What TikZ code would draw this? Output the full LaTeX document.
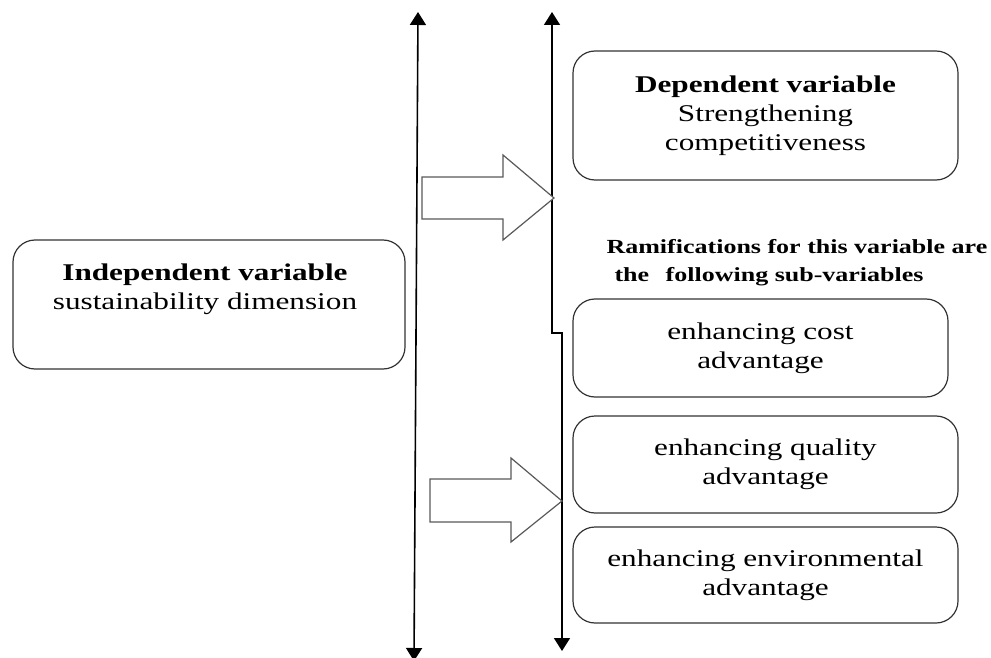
\documentclass[tikz,border=0pt]{standalone}
\usepackage{fontspec}
\setmainfont{Liberation Serif}[FakeStretch=1.3]
\usetikzlibrary{arrows.meta}
\tikzstyle{box}=[draw=black!80, line width=1.2pt, rounded corners=22pt, inner sep=0pt]
\tikzstyle{txt}=[align=center, font=\fontsize{24}{29}\selectfont]
\tikzstyle{axis}=[line width=1.6pt, {Triangle[length=13pt,width=16pt]}-{Triangle[length=13pt,width=16pt]}]
\tikzstyle{fat}=[draw=black!65, line width=1.2pt, fill=white, line join=miter]

\begin{document}
\begin{tikzpicture}[x=1pt, y=-1pt]
\useasboundingbox (0,0) rectangle (991,658);
% Independent side
    \node[box, minimum width=392pt, minimum height=129pt] (ind) at (209,304.5) {};
    \node[txt] (indtext) at (205,289) {\textbf{Independent variable}\\sustainability dimension};
% Dependent side
    \node[box, txt, minimum width=385pt, minimum height=129pt] (dep) at (765.5,115.5) {\textbf{Dependent variable}\\Strengthening\\competitiveness};
    \node[anchor=west, align=left, font=\bfseries\fontsize{20}{28}\selectfont] (ram) at (603,263) {Ramifications for this variable are\\\hspace*{8pt}the\hspace{10pt} following sub-variables};
    \node[box, txt, minimum width=375pt, minimum height=98pt] (cost) at (760.5,348) {enhancing cost\\advantage};
    \node[box, txt, minimum width=385pt, minimum height=97pt] (quality) at (765.5,464.5) {enhancing quality\\advantage};
    \node[box, txt, minimum width=385pt, minimum height=96pt] (env) at (765.5,575) {enhancing environmental\\advantage};
% Axes
    \draw[axis] (418,12) -- (414,661);
    \draw[axis] (552,12) -- (552,333) -- (562,333) -- (562,651);
% Block arrows
    \draw[fat] (422,177) -- (503,177) -- (503,155) -- (554,198) -- (503,240) -- (503,219) -- (422,219) -- cycle;
    \draw[fat] (430,479) -- (511,479) -- (511,458) -- (562,501) -- (511,542) -- (511,522) -- (430,522) -- cycle;
\end{tikzpicture}
\end{document}
